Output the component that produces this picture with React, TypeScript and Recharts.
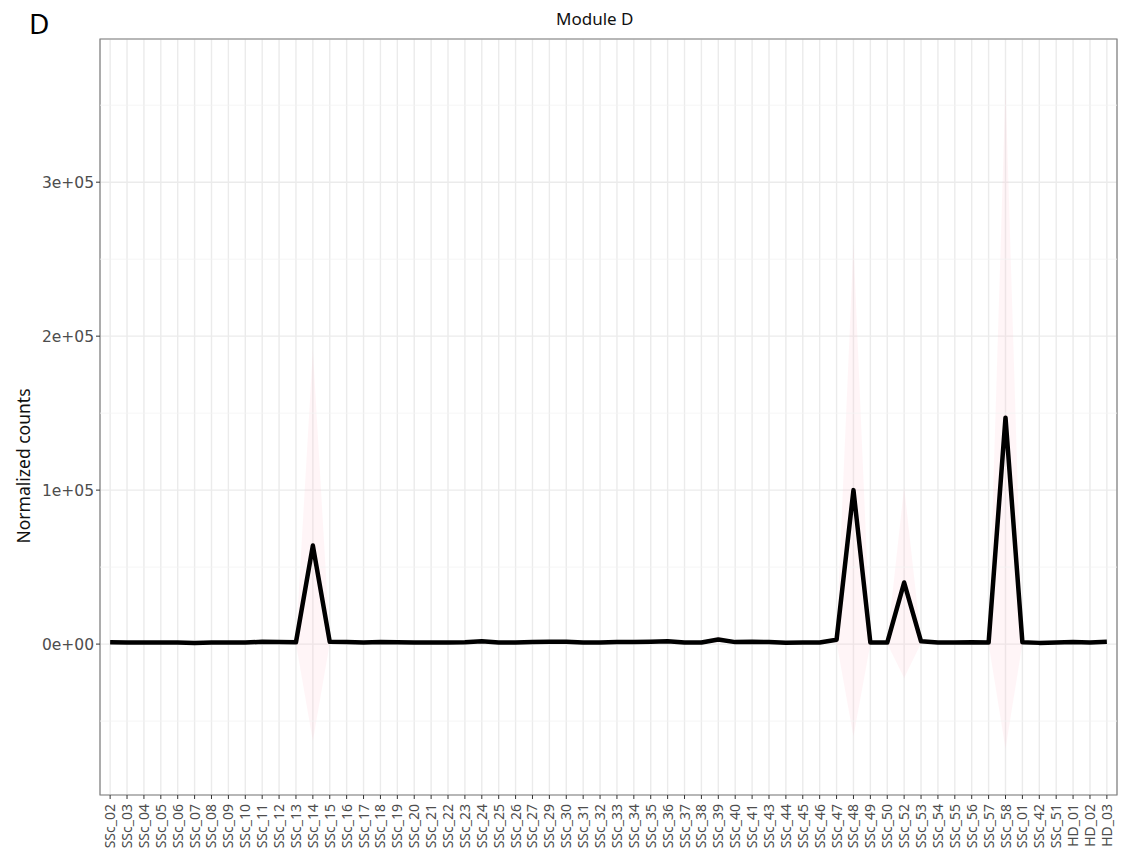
import {
  ComposedChart,
  Line,
  Area,
  XAxis,
  YAxis,
  CartesianGrid,
  ReferenceLine,
  ReferenceArea,
} from "recharts";

// samples in plotted order
const samples = [
  "SSc_02", "SSc_03", "SSc_04", "SSc_05", "SSc_06", "SSc_07", "SSc_08", "SSc_09", "SSc_10", "SSc_11",
  "SSc_12", "SSc_13", "SSc_14", "SSc_15", "SSc_16", "SSc_17", "SSc_18", "SSc_19", "SSc_20", "SSc_21",
  "SSc_22", "SSc_23", "SSc_24", "SSc_25", "SSc_26", "SSc_27", "SSc_29", "SSc_30", "SSc_31", "SSc_32",
  "SSc_33", "SSc_34", "SSc_35", "SSc_36", "SSc_37", "SSc_38", "SSc_39", "SSc_40", "SSc_41", "SSc_43",
  "SSc_44", "SSc_45", "SSc_46", "SSc_47", "SSc_48", "SSc_49", "SSc_50", "SSc_52", "SSc_53", "SSc_54",
  "SSc_55", "SSc_56", "SSc_57", "SSc_58", "SSc_01", "SSc_42", "SSc_51", "HD_01", "HD_02", "HD_03",
];

// mean normalized counts per sample
const means = [
  1200, 1000, 1000, 1000, 1000, 800, 1000, 1000, 1000, 1500,
  1400, 1200, 64000, 1500, 1300, 1100, 1400, 1200, 1000, 1000,
  1000, 1200, 1800, 1000, 1100, 1400, 1500, 1500, 1000, 1000,
  1300, 1300, 1500, 1900, 1100, 1000, 3000, 1300, 1600, 1300,
  900, 1000, 1000, 2800, 100000, 1000, 1000, 40000, 1800, 1000,
  1000, 1200, 1000, 147000, 1200, 800, 1000, 1400, 1000, 1500,
];

// spread used for the ribbon (mean +/- sd)
const sds = [
  900, 800, 800, 800, 800, 700, 800, 800, 800, 1000,
  1000, 900, 127000, 1000, 900, 900, 1000, 900, 800, 800,
  800, 900, 1200, 800, 900, 1000, 1000, 1000, 800, 800,
  900, 900, 1000, 1200, 900, 800, 2000, 900, 1100, 900,
  700, 800, 800, 1800, 160000, 800, 800, 62000, 1200, 800,
  800, 900, 800, 215000, 900, 700, 800, 1000, 800, 1000,
];

const yTicks = [0, 100000, 200000, 300000];
const minorTicks = [-50000, 50000, 150000, 250000, 350000];
const xTicks = samples.map((_, i) => i);

const data = samples.map((name, i) => ({
  idx: i,
  name,
  mean: means[i],
  band: [means[i] - sds[i], means[i] + sds[i]],
}));

const fmt = (v: number) => (v === 0 ? "0e+00" : `${v / 100000}e+05`);

const XTick = (props: any) => {
  const { x, y, payload } = props;
  return (
    <g transform={`translate(${x},${y})`}>
      <text
        transform="rotate(-90)"
        x={-3}
        y={5}
        textAnchor="end"
        fontSize={14}
        fill="#4d4d4d"
        fontFamily="'Noto Sans', sans-serif"
      >
        {samples[payload.value]}
      </text>
    </g>
  );
};

export default function App() {
  return (
    <div style={{ position: "relative", width: 1124, height: 853 }}>
      <style>{`body{margin:0}`}</style>
      <ComposedChart
        width={1124}
        height={853}
        data={data}
        margin={{ top: 39, right: 7, bottom: 0, left: 0 }}
      >
        <CartesianGrid stroke="#ebebeb" strokeWidth={1.4} />
        {minorTicks.map((v) => (
          <ReferenceLine key={v} y={v} stroke="#f2f2f2" strokeWidth={0.8} />
        ))}
        <XAxis
          dataKey="idx"
          type="number"
          domain={[-0.6, 59.6]}
          ticks={xTicks}
          interval={0}
          height={58}
          tickSize={4}
          tickLine={{ stroke: "#333" }}
          axisLine={false}
          allowDataOverflow
          tick={<XTick />}
        />
        <YAxis
          type="number"
          domain={[-98000, 393000]}
          ticks={yTicks}
          tickFormatter={fmt}
          width={100}
          tickSize={4}
          tickLine={{ stroke: "#333" }}
          axisLine={false}
          allowDataOverflow
          tick={{ fontSize: 15.5, fill: "#4d4d4d", fontFamily: "'DejaVu Sans', sans-serif" }}
        />
        <Area
          dataKey="band"
          type="linear"
          stroke="none"
          fill="#ffc0cb"
          fillOpacity={0.16}
          isAnimationActive={false}
        />
        <Line
          dataKey="mean"
          type="linear"
          stroke="#000"
          strokeWidth={4.5}
          strokeLinejoin="round"
          dot={false}
          activeDot={false}
          isAnimationActive={false}
        />
        <ReferenceArea y1={-98000} y2={393000} fill="none" stroke="#7f7f7f" strokeWidth={1.2} />
      </ComposedChart>
      <svg
        width={1124}
        height={853}
        style={{ position: "absolute", left: 0, top: 0, pointerEvents: "none" }}
        fontFamily="'Noto Sans', sans-serif"
      >
        <text x={29} y={34} fontSize={28} fill="#000">D</text>
        <text x={556} y={25} fontSize={17} fill="#111">Module D</text>
        <text transform="translate(30,466) rotate(-90)" textAnchor="middle" fontSize={17.5} fill="#111">
          Normalized counts
        </text>
      </svg>
    </div>
  );
}
